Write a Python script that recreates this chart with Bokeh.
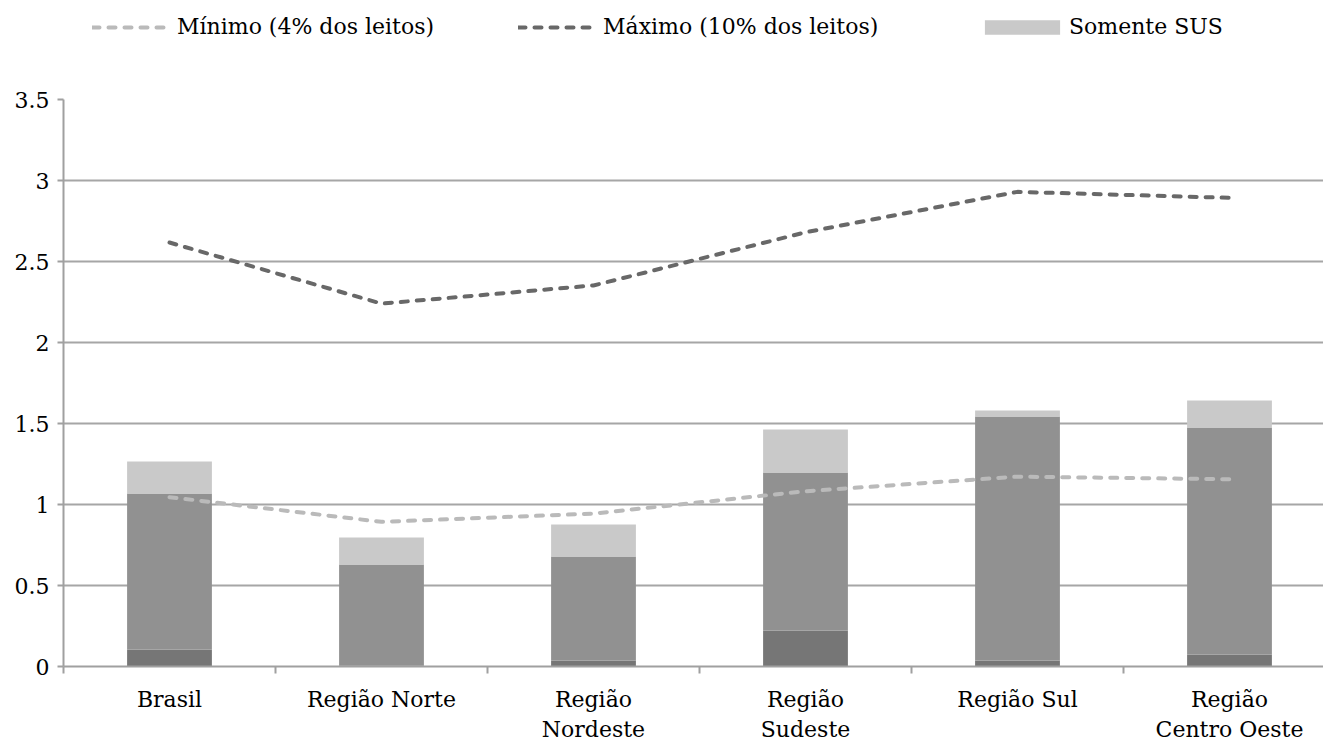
from bokeh.plotting import figure
from bokeh.models import (FixedTicker, NumeralTickFormatter, Legend, LegendItem,
                          ColumnDataSource, Range1d)
from bokeh.layouts import column
from bokeh.embed import file_html
from bokeh.resources import INLINE

categories = ["Brasil", "Região Norte", "Região\nNordeste", "Região\nSudeste",
              "Região Sul", "Região\nCentro Oeste"]
serie_escura = [0.105, 0.005, 0.037, 0.222, 0.037, 0.074]
serie_media = [0.963, 0.625, 0.642, 0.976, 1.506, 1.401]
somente_sus = [0.197, 0.166, 0.198, 0.265, 0.037, 0.167]
minimo = [1.045, 0.893, 0.944, 1.082, 1.172, 1.156]
maximo = [2.617, 2.240, 2.352, 2.680, 2.930, 2.893]
y_ticks = [0, 0.5, 1, 1.5, 2, 2.5, 3, 3.5]
legend_labels = ["Mínimo (4% dos leitos)", "Máximo (10% dos leitos)", "Somente SUS"]

FONT = "DejaVu Serif"
FS = "22px"
C_DARK, C_MID, C_LIGHT = "#767676", "#919191", "#c9c9c9"
C_MIN, C_MAX = "#bababa", "#686868"
DASH = "7 9"
LW = 4
xc = [i + 0.5 for i in range(len(categories))]

src = ColumnDataSource(dict(x=xc, escura=serie_escura, media=serie_media,
                            sus=somente_sus, minimo=minimo, maximo=maximo))

W = 1323
LEG_H = 70
MAIN_H = 674
LEFT = 63

# ---------- legend strip ----------
lg = figure(width=W, height=LEG_H, output_backend="svg", toolbar_location=None,
            x_range=Range1d(0, 1), y_range=Range1d(0, 1),
            x_axis_location=None, y_axis_location=None,
            min_border=0, min_border_left=LEFT, min_border_right=0,
            min_border_top=0, min_border_bottom=0)
lg.grid.visible = False
lg.outline_line_color = None
# legend-only renderers, their data lie outside the visible range
hidden = ColumnDataSource(dict(x=[5, 6], y=[5, 5], top=[5, 5]))
d_min = lg.line("x", "y", source=hidden, line_color=C_MIN, line_width=LW,
                line_dash=DASH, line_cap="round")
d_max = lg.line("x", "y", source=hidden, line_color=C_MAX, line_width=LW,
                line_dash=DASH, line_cap="round")
d_sus = lg.vbar(x="x", top="top", width=0.1, source=hidden, color=C_LIGHT,
                line_color=None)
leg_specs = [
    (legend_labels[0], d_min, 92 - LEFT, 78, 16, 7),
    (legend_labels[1], d_max, 518 - LEFT, 78, 16, 7),
    (legend_labels[2], d_sus, 975 - LEFT, 94, 18, 0),
]
for lab, rend, lx, gw, gh, so in leg_specs:
    leg = Legend(items=[LegendItem(label=lab, renderers=[rend])],
                 location=(lx, 31), orientation="horizontal",
                 label_text_font=FONT, label_text_font_size=FS,
                 label_text_color="#000000",
                 glyph_width=gw, glyph_height=gh, label_standoff=so,
                 padding=0, margin=0, border_line_color=None,
                 background_fill_alpha=0)
    lg.add_layout(leg, "center")

# ---------- main chart ----------
p = figure(width=W, height=MAIN_H, output_backend="svg", toolbar_location=None,
           x_range=Range1d(0, 1260 / 212), y_range=Range1d(0, 3.5),
           min_border_left=LEFT, min_border_right=0, min_border_top=29,
           min_border_bottom=78)
p.outline_line_color = None

bars = p.vbar_stack(["escura", "media", "sus"], x="x", width=0.40, source=src,
                    color=[C_DARK, C_MID, C_LIGHT], line_color=None)
p.line("x", "minimo", source=src, line_color=C_MIN, line_width=LW,
       line_dash=DASH, line_cap="round")
p.line("x", "maximo", source=src, line_color=C_MAX, line_width=LW,
       line_dash=DASH, line_cap="round")

p.xgrid.visible = False
p.ygrid.grid_line_color = "#a6a6a6"
p.ygrid.grid_line_width = 2
p.ygrid.ticker = FixedTicker(ticks=y_ticks)

ya = p.yaxis[0]
ya.ticker = FixedTicker(ticks=y_ticks)
ya.formatter = NumeralTickFormatter(format="0.[0]")
ya.axis_line_color = "#a0a0a0"
ya.axis_line_width = 2
ya.major_tick_line_color = "#a0a0a0"
ya.major_tick_line_width = 2
ya.major_tick_out = 6
ya.major_tick_in = 0
ya.minor_tick_line_color = None
ya.major_label_text_font = FONT
ya.major_label_text_font_size = FS
ya.major_label_text_color = "#000000"
ya.major_label_standoff = 8

xa = p.xaxis[0]
xa.ticker = FixedTicker(ticks=xc, minor_ticks=list(range(len(categories) + 1)))
xa.major_label_overrides = {c: lab for c, lab in zip(xc, categories)}
xa.axis_line_color = "#a0a0a0"
xa.axis_line_width = 2
xa.major_tick_line_color = None
xa.major_tick_out = 0
xa.major_tick_in = 0
xa.minor_tick_line_color = "#a0a0a0"
xa.minor_tick_line_width = 2
xa.minor_tick_out = 7
xa.minor_tick_in = 0
xa.major_label_text_font = FONT
xa.major_label_text_font_size = FS
xa.major_label_text_color = "#000000"
xa.major_label_standoff = 13

layout = column(lg, p, spacing=0)
open("out.html", "w").write(file_html(layout, INLINE))
